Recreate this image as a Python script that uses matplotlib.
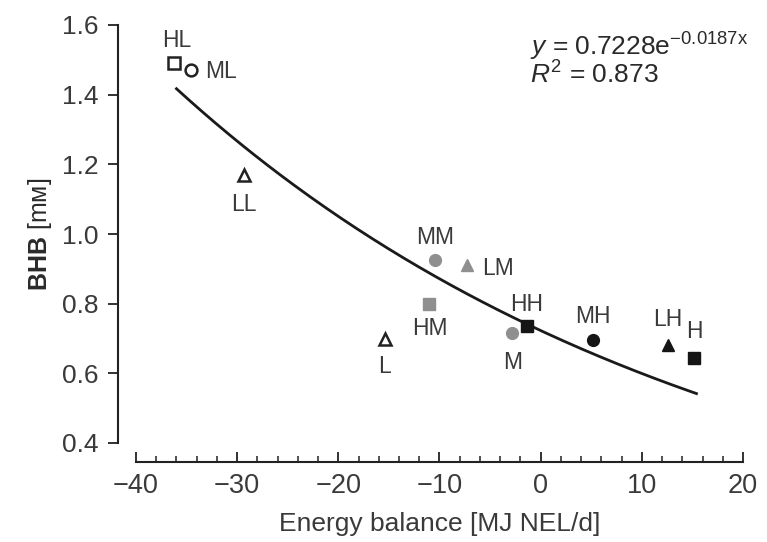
import numpy as np
import matplotlib
matplotlib.use("Agg")
import matplotlib.pyplot as plt
from matplotlib.ticker import MultipleLocator

plt.rcParams['font.family'] = ['Liberation Sans', 'DejaVu Sans']
plt.rcParams['mathtext.fontset'] = 'custom'
plt.rcParams['mathtext.rm'] = 'Liberation Sans'
plt.rcParams['mathtext.it'] = 'Liberation Sans:italic'
plt.rcParams['mathtext.bf'] = 'Liberation Sans:bold'

# Data
labels = ["HL", "ML", "LL", "MM", "LM", "HM", "L", "M", "HH", "MH", "LH", "H"]
energy = [-36.2, -34.6, -29.3, -10.4, -7.3, -11.0, -15.4, -2.8, -1.4, 5.2, 12.6, 15.2]
bhb = [1.49, 1.47, 1.17, 0.925, 0.91, 0.80, 0.70, 0.715, 0.735, 0.695, 0.68, 0.645]
markers = ["s", "o", "^", "o", "^", "s", "^", "o", "s", "o", "^", "s"]
groups = ["open", "open", "open", "grey", "grey", "grey", "open", "grey", "black", "black", "black", "black"]
fit_a, fit_b = 0.7228, -0.0187
fit_range = (-36.0, 15.4)
xtick_vals = [-40, -30, -20, -10, 0, 10, 20]
xtick_labels = ["\u221240", "\u221230", "\u221220", "\u221210", "0", "10", "20"]
ytick_vals = [0.4, 0.6, 0.8, 1.0, 1.2, 1.4, 1.6]
ytick_labels = ["0.4", "0.6", "0.8", "1.0", "1.2", "1.4", "1.6"]

label_offsets = {
    "HL": (2, 23, "center"), "ML": (14, -1, "left"), "LL": (0, -30, "center"),
    "MM": (0, 23, "center"), "LM": (15, -3, "left"), "HM": (0, -25, "center"),
    "L": (0, -28, "center"), "M": (0, -29, "center"), "HH": (0, 22, "center"),
    "MH": (0, 24, "center"), "LH": (0, 26, "center"), "H": (0, 26, "center"),
}

fig = plt.figure(figsize=(7.67, 5.42), dpi=100)
ax = fig.add_axes([136/767, 1-443/542, (743-136)/767, (443-25)/542])

text_col = "#3a3a3a"
styles = {
    "open": dict(mfc="white", mec="#222222", mew=1.8),
    "grey": dict(mfc="#8f8f8f", mec="#8f8f8f", mew=1.0),
    "black": dict(mfc="#151515", mec="#151515", mew=1.0),
}

xs = np.linspace(fit_range[0], fit_range[1], 200)
ax.plot(xs, fit_a*np.exp(fit_b*xs), color="#1a1a1a", lw=2.0, zorder=2)

for lab, x, y, m, g in zip(labels, energy, bhb, markers, groups):
    ax.plot([x], [y], marker=m, ms=8.5, ls="none", zorder=3, **styles[g])
    dx, dy, ha = label_offsets[lab]
    ax.annotate(lab, (x, y), xytext=(dx, dy), textcoords="offset pixels",
                ha=ha, va="center", fontsize=16.5, color=text_col)

ax.set_xlim(-40, 20)
ax.set_ylim(0.4, 1.6)
for s in ["top", "right"]:
    ax.spines[s].set_visible(False)
ax.spines["left"].set_position(("outward", 13.0))
ax.spines["bottom"].set_position(("outward", 13.7))
ax.spines["left"].set_bounds(0.4, 1.6)
ax.spines["bottom"].set_bounds(-40, 20)
for s in ["left", "bottom"]:
    ax.spines[s].set_linewidth(1.5)
    ax.spines[s].set_color("#222222")

ax.xaxis.set_minor_locator(MultipleLocator(2))
ax.tick_params(axis="x", which="major", direction="in", length=7, width=1.3,
               labelsize=19.5, labelcolor=text_col, color="#222222", pad=8)
ax.tick_params(axis="x", which="minor", direction="in", length=4, width=1.1, color="#222222")
ax.tick_params(axis="y", which="major", direction="out", length=7, width=1.3,
               labelsize=19, labelcolor=text_col, color="#222222", pad=7)
ax.set_xticks(xtick_vals)
ax.set_xticklabels(xtick_labels)
ax.set_yticks(ytick_vals)
ax.set_yticklabels(ytick_labels)

ax.set_xlabel("Energy balance [MJ NEL/d]", fontsize=19, color=text_col, labelpad=9)
ax.set_ylabel("$\\mathbf{BHB}$ [m\u1d0d]", fontsize=18, color="#2a2a2a", labelpad=6)

ax.text((530-136)/607, 0.948, r"$y$ = 0.7228e$^{\mathregular{-0.0187x}}$", transform=ax.transAxes,
        fontsize=19, color="#2a2a2a", ha="left", va="center")
ax.text((530-136)/607, 0.881, r"$R^{\mathregular{2}}$ = 0.873", transform=ax.transAxes,
        fontsize=19, color="#2a2a2a", ha="left", va="center")

fig.savefig("out.png", dpi=100, facecolor="white")
